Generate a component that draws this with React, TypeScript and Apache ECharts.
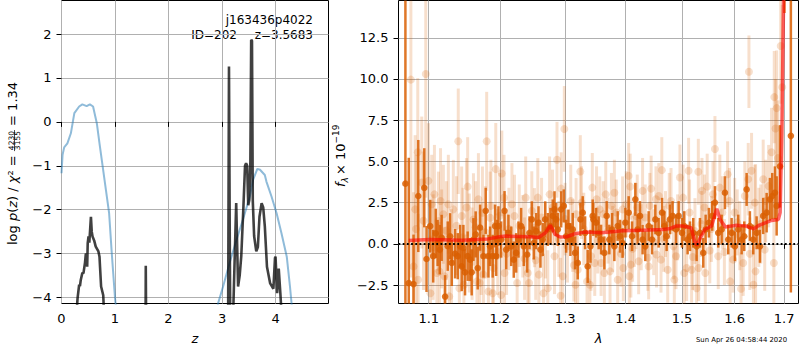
import React, { useEffect, useRef } from 'react';
import * as echarts from 'echarts';

// ---------- left panel: redshift ----------
const zTicks = [0, 1, 2, 3, 4];
const logpTicks = [-4, -3, -2, -1, 0, 1, 2];

// prior-like smooth curve (light blue)
const priorZ = [0, 0.02, 0.05, 0.11, 0.175, 0.24, 0.33, 0.39, 0.47, 0.53, 0.59, 0.66, 0.71, 0.77, 0.83, 0.89, 0.94, 1.0, 1.05, 1.2, 2.7, 2.85, 2.925, 3.02, 3.14, 3.27, 3.39, 3.52, 3.58, 3.66, 3.71, 3.8, 3.83, 3.925, 4.02, 4.11, 4.21, 4.27, 4.3, 4.35, 4.5];
const priorLogP = [-1.17, -0.75, -0.58, -0.49, -0.26, 0.2, 0.35, 0.4, 0.36, 0.4, 0.35, -0.03, -0.49, -1.02, -1.55, -2.08, -3.0, -4.01, -4.6, -7, -7, -4.7, -4.14, -3.75, -3.22, -2.69, -2.23, -1.7, -1.32, -1.07, -1.09, -1.21, -1.36, -1.7, -2.08, -2.53, -3.07, -3.75, -4.14, -4.8, -7];

// p(z) (dark)
const pzZ = [0.25, 0.29, 0.3, 0.33, 0.345, 0.36, 0.39, 0.41, 0.44, 0.455, 0.47, 0.48, 0.49, 0.505, 0.52, 0.55, 0.565, 0.58, 0.61, 0.64, 0.69, 0.71, 0.72, 0.74, 0.78, 0.8, 0.85, 1.5, 1.565, 1.575, 1.585, 1.595, 3.0, 3.11, 3.13, 3.145, 3.16, 3.2, 3.21, 3.265, 3.3, 3.33, 3.36, 3.4, 3.43, 3.45, 3.47, 3.49, 3.51, 3.53, 3.545, 3.56, 3.575, 3.6, 3.64, 3.67, 3.7, 3.74, 3.77, 3.8, 3.84, 3.9, 3.96, 3.99, 4.0, 4.03, 4.06, 4.09, 4.11, 4.15];
const pzLogP = [-7, -4.2, -4.02, -3.71, -3.74, -3.6, -3.44, -3.45, -3.2, -3.0, -3.03, -3.3, -2.76, -2.61, -2.75, -2.16, -2.5, -2.61, -2.7, -2.84, -2.95, -3.07, -3.3, -3.75, -3.95, -4.5, -7, -7, -7, -3.28, -3.28, -7, -7, -6, 1.26, -2.7, -6, -6, -4.3, -1.85, -3.75, -3.5, -3.05, -1.93, -1.0, -0.94, -1.0, -1.9, -1.78, -0.9, 1.87, 1.85, -1.8, -2.6, -2.95, -2.85, -2.16, -1.85, -1.95, -2.38, -3.3, -3.68, -3.8, -3.1, -3.07, -3.9, -3.34, -3.9, -4.3, -7];

// ---------- right panel: spectrum ----------
const lamTicks = [1.1, 1.2, 1.3, 1.4, 1.5, 1.6, 1.7];
const fluxTicks = [-2.5, 0, 2.5, 5, 7.5, 10, 12.5];

const darkLam = [1.069, 1.0734, 1.0797, 1.086, 1.094, 1.097, 1.102, 1.106, 1.1095, 1.112, 1.115, 1.1175, 1.1223, 1.1259, 1.1292, 1.1315, 1.1361, 1.1398, 1.1431, 1.1453, 1.1477, 1.15, 1.1537, 1.1572, 1.1594, 1.1619, 1.1651, 1.168, 1.1714, 1.1762, 1.1795, 1.1834, 1.1859, 1.1896, 1.1931, 1.1947, 1.196, 1.198, 1.202, 1.207, 1.2094, 1.2128, 1.2169, 1.2207, 1.2243, 1.2278, 1.2318, 1.2358, 1.2409, 1.2445, 1.248, 1.251, 1.2547, 1.2583, 1.2613, 1.2648, 1.2686, 1.2727, 1.2768, 1.2805, 1.2832, 1.2858, 1.2884, 1.2937, 1.2978, 1.3016, 1.3053, 1.3084, 1.3122, 1.316, 1.3202, 1.3246, 1.3283, 1.3322, 1.3364, 1.3409, 1.3446, 1.3457, 1.3502, 1.3545, 1.3585, 1.364, 1.3678, 1.3723, 1.377, 1.3808, 1.3864, 1.3904, 1.3948, 1.3995, 1.4052, 1.411, 1.4167, 1.4207, 1.4248, 1.4294, 1.4341, 1.44, 1.446, 1.4519, 1.4577, 1.4639, 1.468, 1.4721, 1.4781, 1.4829, 1.4891, 1.4939, 1.5, 1.5042, 1.5104, 1.5148, 1.5209, 1.5272, 1.5334, 1.5396, 1.5441, 1.5503, 1.5567, 1.5618, 1.5681, 1.5747, 1.581, 1.5875, 1.594, 1.6005, 1.607, 1.6137, 1.6189, 1.6236, 1.6301, 1.6368, 1.6436, 1.6503, 1.6569, 1.6639, 1.6706, 1.6753, 1.6808, 1.6844, 1.6912, 1.7005, 1.714];
const darkFlux = [3.65, -2.38, -2.44, 2.9, 3.4, -0.92, 1.07, -0.75, 0.63, 0.05, -0.35, 0.36, -3.2, -0.14, 0.46, -1.16, -0.6, -0.75, -0.15, -1.37, -0.25, -1.73, -0.75, -0.96, -1.73, 0.26, 0.57, -1.47, 0.98, -0.75, 2.0, -0.75, -0.15, -0.75, 1.08, -0.75, 0.26, 1.08, 0.26, 2.0, -0.35, 0.67, -0.15, -0.96, -0.55, 0.26, 1.08, -0.15, -0.65, 0.67, 1.48, 0.05, 0.77, 1.28, -0.35, 0.26, 1.48, 0.87, 1.08, 1.69, 2.09, 1.48, 0.87, 2.09, 2.3, 0.46, 1.08, 0.26, 0.87, -0.55, -1.16, 1.48, 1.89, 0.67, -1.37, -0.15, 1.69, 1.48, 1.28, 0.67, 0.26, -0.55, 1.69, 0.26, 0.87, -0.15, 1.08, 0.46, 0.05, 1.28, 1.89, 0.46, 2.7, 0.87, 1.69, 0.26, -0.15, 1.08, 0.26, 1.48, 0.67, 1.89, 1.08, 0.46, 1.48, 1.69, 0.87, 1.69, 0.67, 1.08, 0.26, 0.46, 0.67, -0.15, 0.67, -0.55, 0.87, 1.28, 1.69, 2.5, 0.67, 0.87, 3.1, 0.26, 0.67, -0.15, 0.87, 0.26, 0.46, 3.3, 1.08, 0.26, 0.67, -0.15, 1.69, 1.89, 2.7, 2.9, 3.1, 2.3, 4.7, 26, 6.55];
const darkErr = [20, 7.6, 3, 3.4, 2.4, 2.0, 1.6, 1.6, 1.5, 1.4, 1.5, 1.4, 1.3, 1.5, 1.4, 1.4, 1.5, 1.4, 1.3, 1.5, 1.4, 1.4, 1.5, 1.3, 1.4, 1.3, 1.4, 1.3, 1.4, 1.3, 1.4, 1.3, 1.2, 1.3, 1.3, 1.2, 1.2, 1.2, 1.1, 1.2, 1.2, 1.1, 1.2, 1.1, 1.2, 1.1, 1.1, 1.2, 1.1, 1.0, 1.1, 1.0, 1.1, 1.0, 1.1, 1.0, 1.1, 1.0, 1.1, 1.0, 1.1, 1.0, 1.0, 1.1, 1.0, 1.0, 1.0, 1.0, 1.0, 1.0, 1.0, 1.0, 1.0, 1.0, 1.0, 1.0, 1.0, 1.0, 0.9, 1.0, 0.9, 1.0, 0.9, 0.9, 1.0, 0.9, 0.9, 1.0, 0.9, 0.9, 1.0, 0.9, 1.0, 0.9, 0.9, 0.9, 0.9, 0.9, 0.9, 0.9, 0.9, 0.9, 0.9, 0.9, 0.9, 0.9, 0.9, 0.9, 0.9, 0.9, 0.9, 0.9, 0.9, 0.9, 0.9, 0.9, 0.9, 0.9, 0.9, 1.0, 0.9, 0.9, 1.0, 0.9, 0.9, 0.9, 0.9, 0.9, 0.9, 1.0, 0.9, 0.9, 1.0, 1.0, 1.1, 1.2, 1.3, 1.4, 1.6, 1.8, 2.5, 12, 9.5];

const lightLam = [1.0762, 1.0797, 1.0818, 1.083, 1.0853, 1.0858, 1.0906, 1.093, 1.096, 1.0996, 1.1023, 1.104, 1.106, 1.1077, 1.111, 1.1131, 1.1145, 1.116, 1.1175, 1.1199, 1.1213, 1.124, 1.1267, 1.128, 1.131, 1.1336, 1.138, 1.1405, 1.142, 1.1453, 1.147, 1.1484, 1.152, 1.1537, 1.156, 1.16, 1.1619, 1.165, 1.1669, 1.169, 1.1708, 1.173, 1.1748, 1.1762, 1.179, 1.1809, 1.1834, 1.1859, 1.187, 1.1896, 1.1906, 1.1941, 1.197, 1.2, 1.2021, 1.203, 1.2062, 1.207, 1.21, 1.2135, 1.218, 1.2218, 1.2258, 1.229, 1.2343, 1.237, 1.2387, 1.2419, 1.2438, 1.248, 1.252, 1.254, 1.2572, 1.2588, 1.263, 1.266, 1.269, 1.2727, 1.2755, 1.28, 1.2832, 1.2871, 1.29, 1.2929, 1.2937, 1.2962, 1.2987, 1.3, 1.3037, 1.309, 1.312, 1.314, 1.3166, 1.3176, 1.3202, 1.3244, 1.3264, 1.33, 1.3353, 1.34, 1.3418, 1.344, 1.348, 1.351, 1.353, 1.3563, 1.3585, 1.362, 1.364, 1.3663, 1.37, 1.3735, 1.3758, 1.378, 1.3808, 1.384, 1.3864, 1.392, 1.3948, 1.396, 1.401, 1.4052, 1.4063, 1.4079, 1.409, 1.412, 1.415, 1.4179, 1.42, 1.4225, 1.427, 1.4294, 1.434, 1.4385, 1.44, 1.442, 1.4444, 1.449, 1.453, 1.454, 1.458, 1.462, 1.4634, 1.467, 1.47, 1.474, 1.4768, 1.48, 1.4843, 1.486, 1.4891, 1.492, 1.4963, 1.502, 1.5042, 1.5086, 1.5122, 1.514, 1.5178, 1.52, 1.524, 1.5272, 1.5303, 1.531, 1.536, 1.5372, 1.542, 1.5434, 1.547, 1.552, 1.555, 1.558, 1.5618, 1.5681, 1.5712, 1.576, 1.58, 1.5862, 1.59, 1.5911, 1.597, 1.6, 1.605, 1.61, 1.6125, 1.6168, 1.62, 1.6268, 1.6282, 1.63, 1.6334, 1.6372, 1.64, 1.6415, 1.648, 1.652, 1.6569, 1.66, 1.662, 1.668, 1.6739, 1.6787, 1.6795, 1.682, 1.6845, 1.687, 1.6928, 1.696];
const lightFlux = [9.96, -1.37, 2.09, 0.9, 5.55, -2.18, 3.72, 1.4, 10.3, 3.82, -3.0, 2.4, -0.2, 3.0, -1.77, 1.38, -1.67, 2.6, 0.3, 1.79, -1.97, 0.8, 2.4, -3.19, -0.9, 2.09, 1.1, 6.22, -2.69, 1.69, 0.4, -2.48, 2.2, 3.47, 0.05, -0.6, 1.48, 1.0, -2.28, 2.7, -2.38, -0.3, 1.89, -1.87, 0.7, 6.22, -2.89, 1.58, 2.3, -3.0, -1.47, 4.53, -0.5, 1.7, -3.1, 4.27, 2.8, -1.77, -0.6, 0.9, 2.4, 1.69, -2.38, 1.1, 0.46, -0.9, 2.8, -1.77, -2.38, 2.0, 0.98, -1.0, 2.8, -1.87, 1.6, -3.0, 0.2, -2.69, 3.0, 2.2, -0.75, 5.1, 0.3, -3.15, 3.35, -1.97, 6.97, 1.5, -0.15, 2.6, 0.5, -1.3, -2.48, 1.79, -1.57, 4.39, 2.5, 0.9, -2.28, -2.48, -0.75, 3.41, -1.16, 2.7, 0.2, 2.09, -1.16, 1.8, -1.77, 3.0, 0.8, -1.67, 2.3, 0.3, 3.1, 1.9, -2.18, -0.6, 2.09, -1.47, 2.4, 4.12, -1.97, 3.47, -1.26, -0.3, 0.6, 1.69, 2.2, -1.06, 0.4, 3.21, 1.6, -0.85, -1.37, 2.3, 3.35, 0.1, 2.7, -0.65, 2.9, -0.96, 4.47, 0.3, 1.2, -1.57, 2.3, 2.6, -0.15, -2.17, -0.75, 1.0, 4.02, 2.8, -1.77, -1.47, 4.43, 1.9, -1.57, -0.8, 0.77, -2.69, 4.37, -1.47, 1.2, 3.21, 2.2, -1.77, 3.47, -0.4, 0.9, 3.0, 5.75, -0.75, 3.41, 1.9, -0.5, 4.22, 2.6, -2.28, -0.96, 1.9, 1.3, 0.5, -2.72, -1.16, 2.9, 3.92, 10.44, -0.6, 4.43, -2.48, 2.5, -1.67, 1.0, 1.2, 3.92, -0.35, 2.6, 3.5, 5.55, -1.16, 8.9, 7.0, 8.23, 5.2, 12.0, 9.5];
const lightErr = [12, 4.5, 4.5, 4.5, 4.5, 4, 4, 4.2, 7.5, 3.5, 3.5, 3, 3.2, 3, 3, 3, 3, 3.2, 3, 3, 3, 3, 3, 3, 3, 3, 3, 3.2, 3, 3, 3, 3, 3, 3, 3, 2.8, 2.8, 2.8, 2.8, 2.8, 2.8, 2.8, 2.8, 2.8, 2.8, 3, 2.8, 2.8, 2.8, 2.8, 2.8, 2.8, 2.6, 2.6, 2.6, 2.6, 2.6, 2.6, 2.5, 2.5, 2.5, 2.5, 2.5, 2.5, 2.5, 2.5, 2.5, 2.5, 2.5, 2.4, 2.4, 2.4, 2.4, 2.4, 2.4, 2.4, 2.3, 2.3, 2.3, 2.3, 2.3, 2.3, 2.3, 2.3, 2.2, 2.2, 2.6, 2.2, 2.2, 2.2, 2.2, 2.2, 2.2, 2.2, 2.2, 2.2, 2.2, 2.2, 2.1, 2.1, 2.1, 2.1, 2, 2, 2, 2, 2, 2, 2, 2, 2, 2, 2, 2, 2, 2, 2, 2, 2, 2, 2, 2, 2, 2, 2, 2, 2, 2, 2, 2, 2, 2, 2, 2, 2, 2, 2, 2, 2, 2, 2, 2, 2, 2, 2, 2, 2, 2, 2, 2, 2, 2, 2, 2, 2, 2, 2, 2, 2, 2, 2, 2, 2, 2, 2, 2, 2, 2, 2, 2, 2, 2, 2, 2, 2, 2.2, 2, 2, 2, 2, 2, 2.1, 2, 2.1, 2.2, 2, 2.1, 2.2, 2.2, 2.2, 2.3, 2.3, 2.3, 6.5, 2.4, 2.4, 2.4, 2.5, 2.5, 2.5, 2.7, 2.8, 2.8, 3, 3.5, 3.5, 3.5, 5, 4.5, 4.5, 4, 5, 5];

const modelLam = [1.0734, 1.1009, 1.1465, 1.183, 1.1995, 1.2093, 1.2438, 1.2588, 1.269, 1.2766, 1.2842, 1.292, 1.3025, 1.3158, 1.3319, 1.3591, 1.3948, 1.4294, 1.4651, 1.4769, 1.4889, 1.5012, 1.517, 1.5233, 1.5277, 1.5342, 1.5425, 1.5555, 1.5653, 1.5718, 1.5817, 1.6018, 1.6221, 1.6379, 1.6495, 1.6739, 1.6881, 1.6916, 1.6952, 1.6988, 1.701];
const modelFlux = [0.2, 0.26, 0.22, 0.3, 0.43, 0.47, 0.43, 0.39, 0.67, 1.12, 0.57, 0.41, 0.43, 0.61, 0.71, 0.67, 0.79, 0.83, 0.87, 0.91, 1.08, 1.08, 0.98, 0.16, -0.1, 0.37, 0.87, 1.08, 2.13, 1.48, 1.02, 1.12, 1.08, 0.91, 1.14, 1.42, 1.48, 1.89, 6.77, 14.9, 20];

const lamRange = [1.06, 1.7301];
const fluxRange = [-3.62, 14.76];
const zRange = [0, 4.99];
const logpRange = [-4.137, 2.765];

const FF = 'DejaVu Sans';
const minus = (s: string) => s.replace('-', '\u2212');

function errRender(stroke: string, fill: string, lw: number, r: number) {
  return (params: any, api: any) => {
    const cs = params.coordSys;
    const x = api.value(0), y = api.value(1), e = api.value(2);
    const top = api.coord([x, y + e]);
    const bot = api.coord([x, y - e]);
    const c = api.coord([x, y]);
    const y1 = Math.max(top[1], cs.y);
    const y2 = Math.min(bot[1], cs.y + cs.height);
    const children: any[] = [];
    if (y2 > y1) children.push({ type: 'line', shape: { x1: c[0], y1, x2: c[0], y2 }, style: { stroke, lineWidth: lw } });
    if (c[1] >= cs.y && c[1] <= cs.y + cs.height) children.push({ type: 'circle', shape: { cx: c[0], cy: c[1], r }, style: { fill } });
    return { type: 'group', children };
  };
}

export default function App() {
  const ref = useRef<HTMLDivElement>(null);
  useEffect(() => {
    if (!ref.current) return;
    const chart = echarts.init(ref.current, undefined, { renderer: 'svg' });
    const ctx = document.createElement('canvas').getContext('2d')!;
    const meas = (t: string, size: number, italic = false) => {
      ctx.font = `${italic ? 'italic ' : ''}${size}px "${FF}"`;
      return ctx.measureText(t).width;
    };
    const txt = (text: string, x: number, y: number, size: number, italic = false, align = 'left') => ({
      type: 'text', x, y, silent: true,
      style: { text, fontSize: size, fontFamily: FF, fontStyle: italic ? 'italic' : 'normal', fill: '#000', align, textAlign: align, verticalAlign: 'middle', textVerticalAlign: 'middle' },
    });

    // left y label
    const L = 13;
    const segs: [string, boolean][] = [['log ', false], ['p', true], ['(', false], ['z', true], [') / ', false], ['\u03c7', true], ['\u00b2', false], [' = ', false]];
    const leftKids: any[] = [];
    let px = 0;
    for (const [t, it] of segs) { leftKids.push(txt(t, px, 0, L, it)); px += meas(t, L, it); }
    const fs = 7.5;
    const fw = Math.max(meas('4230', fs), meas('3155', fs)) + 2;
    leftKids.push(txt('4230', px + fw / 2, -0.8, fs, false, 'center'));
    leftKids.push(txt('3155', px + fw / 2, 4.9, fs, false, 'center'));
    leftKids.push({ type: 'line', shape: { x1: px, y1: 2, x2: px + fw, y2: 2 }, style: { stroke: '#000', lineWidth: 0.7 } });
    px += fw;
    leftKids.push(txt(' = 1.34', px, 0, L, false));

    // right y label
    const rKids: any[] = [];
    let rx = 0;
    rKids.push(txt('f', rx, 0, L, true)); rx += meas('f', L, true);
    rKids.push(txt('\u03bb', rx, 4, 9, true)); rx += meas('\u03bb', 9, true) + 2;
    rKids.push(txt('\u00d7 10', rx, 0, L)); rx += meas('\u00d7 10', L);
    rKids.push(txt('\u221219', rx, -4.5, 9));

    const ln = Math.log;
    const split = { show: true, lineStyle: { color: '#b0b0b0', width: 1 } };
    const tick = (vals: number[]) => ({ show: true, length: 5, lineStyle: { color: '#000' }, customValues: vals });
    const option: any = {
      animation: false,
      grid: [
        { left: 61.5, top: 0.5, width: 267, height: 303, show: true, borderColor: '#000', borderWidth: 1 },
        { left: 398.5, top: 0.5, width: 400, height: 303, show: true, borderColor: '#000', borderWidth: 1 },
      ],
      xAxis: [
        {
          gridIndex: 0, type: 'value', min: zRange[0], max: zRange[1],
          axisLine: { show: false }, axisTick: tick(zTicks),
          axisLabel: { customValues: zTicks, fontFamily: FF, fontSize: 13, color: '#000', margin: 8 },
          splitLine: split,
        },
        {
          gridIndex: 1, type: 'value', min: ln(lamRange[0]), max: ln(lamRange[1]),
          axisLine: { show: false }, axisTick: tick(lamTicks.map(ln)),
          axisLabel: { customValues: lamTicks.map(ln), fontFamily: FF, fontSize: 13, color: '#000', margin: 8, formatter: (v: number) => Math.exp(v).toFixed(1) },
          splitLine: split,
        },
      ],
      yAxis: [
        {
          gridIndex: 0, type: 'value', min: logpRange[0], max: logpRange[1],
          axisLine: { show: false }, axisTick: tick(logpTicks),
          axisLabel: { customValues: logpTicks, fontFamily: FF, fontSize: 13, color: '#000', margin: 10, formatter: (v: number) => minus(String(Math.round(v))) },
          splitLine: split,
        },
        {
          gridIndex: 1, type: 'value', min: fluxRange[0], max: fluxRange[1],
          axisLine: { show: false }, axisTick: tick(fluxTicks),
          axisLabel: { customValues: fluxTicks, fontFamily: FF, fontSize: 13, color: '#000', margin: 10, formatter: (v: number) => minus(v.toFixed(1)) },
          splitLine: split,
        },
      ],
      series: [
        {
          type: 'line', xAxisIndex: 0, yAxisIndex: 0, z: 2, symbol: 'none', clip: true,
          data: priorZ.map((z, i) => [z, priorLogP[i]]),
          lineStyle: { color: 'rgba(31,119,180,0.5)', width: 2 },
        },
        {
          type: 'line', xAxisIndex: 0, yAxisIndex: 0, z: 3, symbol: 'none', clip: true,
          data: pzZ.map((z, i) => [z, pzLogP[i]]),
          lineStyle: { color: 'rgba(0,0,0,0.75)', width: 2.6 },
        },
        {
          type: 'custom', xAxisIndex: 1, yAxisIndex: 1, z: 2,
          renderItem: errRender('rgba(217,95,2,0.2)', 'rgba(217,95,2,0.2)', 3, 4),
          encode: { x: 0, y: 1 },
          data: lightLam.map((l, i) => [ln(l), lightFlux[i], lightErr[i]]),
        },
        {
          type: 'custom', xAxisIndex: 1, yAxisIndex: 1, z: 3,
          renderItem: errRender('rgba(217,95,2,0.85)', 'rgba(217,95,2,0.85)', 2.5, 3.3),
          encode: { x: 0, y: 1 },
          data: darkLam.map((l, i) => [ln(l), darkFlux[i], darkErr[i]]),
        },
        {
          type: 'line', xAxisIndex: 1, yAxisIndex: 1, z: 4, symbol: 'none', clip: true,
          data: modelLam.map((l, i) => [ln(l), modelFlux[i]]),
          lineStyle: { color: 'rgba(255,0,0,0.6)', width: 3.5 },
        },
        {
          type: 'line', xAxisIndex: 1, yAxisIndex: 1, z: 6, data: [],
          markLine: {
            silent: true, symbol: ['none', 'none'], label: { show: false },
            lineStyle: { color: '#000', type: [1.8, 2.4], width: 1.8 },
            data: [{ yAxis: 0 }],
          },
        },
      ],
      graphic: [
        { type: 'group', x: 12.5, y: 245, rotation: Math.PI / 2, children: leftKids },
        { type: 'group', x: 340.5, y: 187, rotation: Math.PI / 2, children: rKids },
        txt('j163436p4022', 313, 20, 12, false, 'right'),
        txt('ID=202', 237, 34.5, 12, false, 'right'),
        txt('z=3.5683', 313, 34.5, 12, false, 'right'),
        txt('z', 195, 338, 13, true, 'center'),
        txt('\u03bb', 598.5, 338.5, 13, true, 'center'),
        txt('Sun Apr 26 04:58:44 2020', 741.5, 340, 6.9, false, 'center'),
      ],
    };
    chart.setOption(option);
    return () => chart.dispose();
  }, []);
  return <div ref={ref} style={{ position: 'fixed', left: 0, top: 0, width: 800, height: 350, background: '#fff' }} />;
}
